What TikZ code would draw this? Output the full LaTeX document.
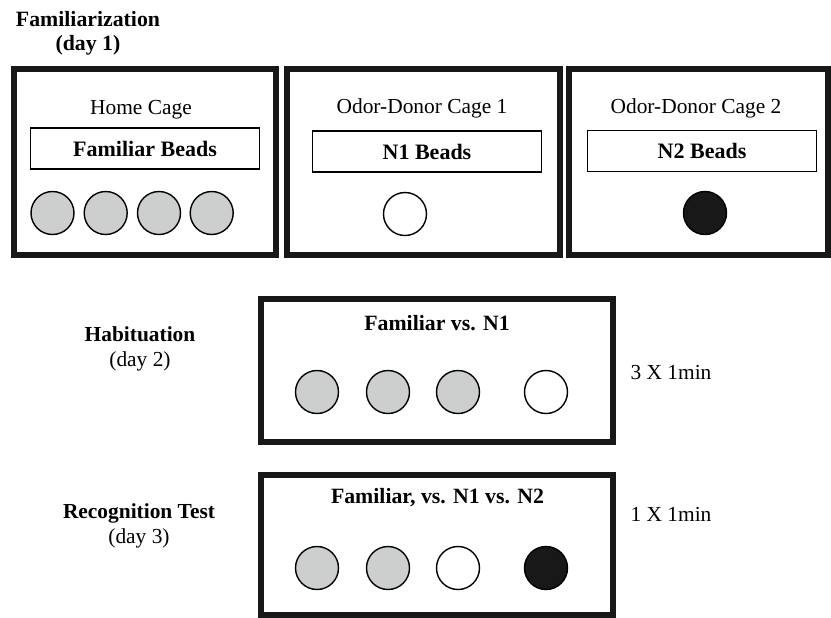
\documentclass[tikz,border=0pt]{standalone}
\usepackage{fontspec}
\setmainfont{Liberation Serif}
\usepackage{xcolor}
\usepackage{tikz}
\usetikzlibrary{positioning, calc}
\definecolor{beadgray}{RGB}{205,207,206}
\definecolor{beadblack}{RGB}{24,24,24}
\tikzset{
  cagebox/.style={
    draw=beadblack, line width=3pt, minimum height=93pt, inner sep=0pt
  },
  arenabox/.style={
    draw=beadblack, line width=3pt, minimum width=176pt, inner sep=0pt
  },
  beadlabel/.style={
    draw, line width=0.7pt, minimum width=114.5pt, minimum height=20.5pt,
    font=\fontsize{11}{12.8}\selectfont\bfseries, inner sep=0pt
  },
  bead/.style={
    circle, draw, line width=0.7pt, minimum size=21.5pt, inner sep=0pt
  },
  phaselabel/.style={align=center, inner sep=0pt},
}

\begin{document}
\begin{tikzpicture}[x=0.5pt, y=-0.5pt, font=\fontsize{10.7}{12.8}\selectfont]
  \useasboundingbox (0,0) rectangle (831,617);

  % === Familiarization ===
  \node[phaselabel, font=\fontsize{10.9}{11.8}\selectfont\bfseries] (famlabel) at (88,33)
    {Familiarization\\(day 1)};

  \node[cagebox, minimum width=131.4pt] (homecage) at (144.9,161.7) {};
  \node[cagebox, minimum width=136.5pt] (donorcage1) at (423.5,161.7) {};
  \node[cagebox, minimum width=129.5pt] (donorcage2) at (698.5,161.7) {};

  \node (homecagetitle) at (141,110) {Home Cage};
  \node (donor1title) at (422,108) {Odor-Donor Cage 1};
  \node (donor2title) at (696,108) {Odor-Donor Cage 2};

  \node[beadlabel] (famBeads) at (145,148.5) {Familiar Beads};
  \node[beadlabel] (n1Beads) at (427,151.5) {N1 Beads};
  \node[beadlabel] (n2Beads) at (702,151) {N2 Beads};

  \node[bead, fill=beadgray] (homebeadA) at (52.5,213) {};
  \node[bead, fill=beadgray] (homebeadB) at (105.7,213) {};
  \node[bead, fill=beadgray] (homebeadC) at (159,213) {};
  \node[bead, fill=beadgray] (homebeadD) at (211.7,213) {};
  \node[bead, fill=white] (donor1bead) at (405,214) {};
  \node[bead, fill=beadblack] (donor2bead) at (705,213) {};

  % === Habituation ===
  \node[phaselabel] (hablabel) at (140,349)
    {\textbf{Habituation}\\(day 2)};
  \node[arenabox, minimum height=71.5pt] (habarena) at (436.5,370.5) {};
  \node[font=\fontsize{10.9}{12.8}\selectfont\bfseries] (habtitle) at (437,323) {Familiar vs. N1};
  \node[bead, fill=beadgray] (habbeadA) at (317,392) {};
  \node[bead, fill=beadgray] (habbeadB) at (388,392) {};
  \node[bead, fill=beadgray] (habbeadC) at (458,392) {};
  \node[bead, fill=white] (habbeadD) at (546,392) {};
  \node (habtime) at (671,373) {3 X 1min};

  % === Recognition Test ===
  \node[phaselabel] (reclabel) at (139,526)
    {\textbf{Recognition Test}\\(day 3)};
  \node[arenabox, minimum height=70pt] (recarena) at (436.5,544.5) {};
  \node[font=\fontsize{10.9}{12.8}\selectfont\bfseries] (rectitle) at (437.5,498) {Familiar, vs. N1 vs. N2};
  \node[bead, fill=beadgray] (recbeadA) at (317,568) {};
  \node[bead, fill=beadgray] (recbeadB) at (388,568) {};
  \node[bead, fill=white] (recbeadC) at (458,568) {};
  \node[bead, fill=beadblack] (recbeadD) at (546,568) {};
  \node (rectime) at (671,514) {1 X 1min};

\end{tikzpicture}
\end{document}
